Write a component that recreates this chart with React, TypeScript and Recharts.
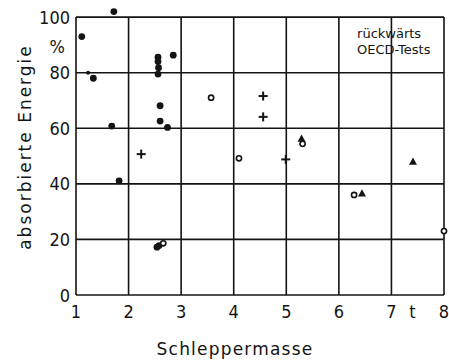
import React from 'react'
import { ScatterChart, Scatter, XAxis, YAxis, ReferenceLine, ReferenceArea } from 'recharts'

const xTicks = [1, 2, 3, 4, 5, 6, 7, 8]
const yTicks = [0, 20, 40, 60, 80, 100]

const filledCircles = [
  { x: 1.11, y: 93 },
  { x: 1.72, y: 102 },
  { x: 1.33, y: 78 },
  { x: 1.68, y: 60.8 },
  { x: 1.82, y: 41.1 },
  { x: 2.56, y: 85.6 },
  { x: 2.56, y: 84 },
  { x: 2.57, y: 81.8 },
  { x: 2.56, y: 79.5 },
  { x: 2.85, y: 86.3 },
  { x: 2.6, y: 68.1 },
  { x: 2.6, y: 62.6 },
  { x: 2.74, y: 60.3 },
  { x: 2.54, y: 17.2 },
  { x: 2.58, y: 17.8 },
]
const smallDots = [{ x: 1.23, y: 80 }]
const openCircles = [
  { x: 2.66, y: 18.6 },
  { x: 3.57, y: 71 },
  { x: 4.1, y: 49.2 },
  { x: 5.31, y: 54.4 },
  { x: 6.29, y: 36 },
  { x: 8.0, y: 23 },
]
const plusSigns = [
  { x: 2.24, y: 50.7 },
  { x: 4.56, y: 71.6 },
  { x: 4.56, y: 64.1 },
  { x: 4.99, y: 48.8 },
]
const triangles = [
  { x: 5.29, y: 56.3 },
  { x: 6.44, y: 36.6 },
  { x: 7.41, y: 48 },
]

const ink = '#141414'
const tickFont = "'DejaVu Sans Condensed', 'DejaVu Sans', sans-serif"
const textFont = "'DejaVu Sans', sans-serif"

const Dot = (props: any) => <circle cx={props.cx} cy={props.cy} r={3.4} fill={ink} />
const SmallDot = (props: any) => <circle cx={props.cx} cy={props.cy} r={2} fill={ink} />
const Ring = (props: any) => (
  <circle cx={props.cx} cy={props.cy} r={2.6} fill="#fff" stroke={ink} strokeWidth={1.6} />
)
const Plus = (props: any) => {
  const { cx, cy } = props
  return (
    <g stroke={ink} strokeWidth={2}>
      <line x1={cx - 4.5} y1={cy} x2={cx + 4.5} y2={cy} />
      <line x1={cx} y1={cy - 4.5} x2={cx} y2={cy + 4.5} />
    </g>
  )
}
const Tri = (props: any) => {
  const { cx, cy } = props
  return <polygon points={`${cx},${cy - 4} ${cx + 4},${cy + 3.2} ${cx - 4},${cy + 3.2}`} fill={ink} />
}

const XTick = (props: any) => {
  const { x, y, payload } = props
  return (
    <g fontFamily={tickFont} fontSize={18} fill={ink}>
      <text x={x} y={y + 23} textAnchor="middle">{payload.value}</text>
      {payload.value === 7 && (
        <text x={x + 21} y={y + 23} textAnchor="middle">t</text>
      )}
    </g>
  )
}

const YTick = (props: any) => {
  const { x, y, payload } = props
  return (
    <g fontFamily={tickFont} fontSize={18} fill={ink}>
      <text x={x - 6} y={y + 6.5} textAnchor="end">{payload.value}</text>
      {payload.value === 100 && (
        <text x={x - 11} y={y + 36} textAnchor="end">%</text>
      )}
    </g>
  )
}

export default function App() {
  return (
    <div style={{ position: 'absolute', left: 0, top: 0, background: '#fff' }}>
      <ScatterChart width={449} height={362} margin={{ top: 6, right: 5, bottom: 0, left: 0 }}>
        <XAxis
          type="number"
          dataKey="x"
          domain={[1, 8]}
          ticks={xTicks}
          height={67}
          axisLine={false}
          tickLine={false}
          tickSize={0}
          tickMargin={0}
          tick={<XTick />}
          label={{
            content: () => (
              <text x={235} y={355} textAnchor="middle" fontFamily={textFont} fontSize={17}
                letterSpacing={1.2} fill={ink}>
                Schleppermasse
              </text>
            ),
          }}
        />
        <YAxis
          type="number"
          dataKey="y"
          domain={[0, 104]}
          ticks={yTicks}
          width={76}
          axisLine={false}
          tickLine={false}
          tickSize={0}
          tickMargin={0}
          tick={<YTick />}
          label={{
            content: () => (
              <text x={31} y={147} transform="rotate(-90, 31, 147)" textAnchor="middle"
                fontFamily={textFont} fontSize={17} letterSpacing={2} fill={ink}>
                absorbierte Energie
              </text>
            ),
          }}
        />
        {xTicks.map((t) => (
          <ReferenceLine key={'v' + t} segment={[{ x: t, y: 0 }, { x: t, y: 100 }]}
            stroke={ink} strokeWidth={1.6} />
        ))}
        {yTicks.map((t) => (
          <ReferenceLine key={'h' + t} segment={[{ x: 1, y: t }, { x: 8, y: t }]}
            stroke={ink} strokeWidth={1.6} />
        ))}
        <ReferenceArea
          x1={6.08}
          x2={7.95}
          y1={83}
          y2={99.2}
          fill="#fff"
          fillOpacity={1}
          stroke="none"
          label={{
            content: (p: any) => {
              const vb = p.viewBox || { x: 343, y: 19 }
              return (
                <g fontFamily={textFont} fontSize={13} fill={ink}>
                  <text x={vb.x + 14} y={vb.y + 19}>rückwärts</text>
                  <text x={vb.x + 14} y={vb.y + 35}>OECD-Tests</text>
                </g>
              )
            },
          }}
        />
        <Scatter data={filledCircles} shape={<Dot />} isAnimationActive={false} />
        <Scatter data={smallDots} shape={<SmallDot />} isAnimationActive={false} />
        <Scatter data={openCircles} shape={<Ring />} isAnimationActive={false} />
        <Scatter data={plusSigns} shape={<Plus />} isAnimationActive={false} />
        <Scatter data={triangles} shape={<Tri />} isAnimationActive={false} />
      </ScatterChart>
    </div>
  )
}
